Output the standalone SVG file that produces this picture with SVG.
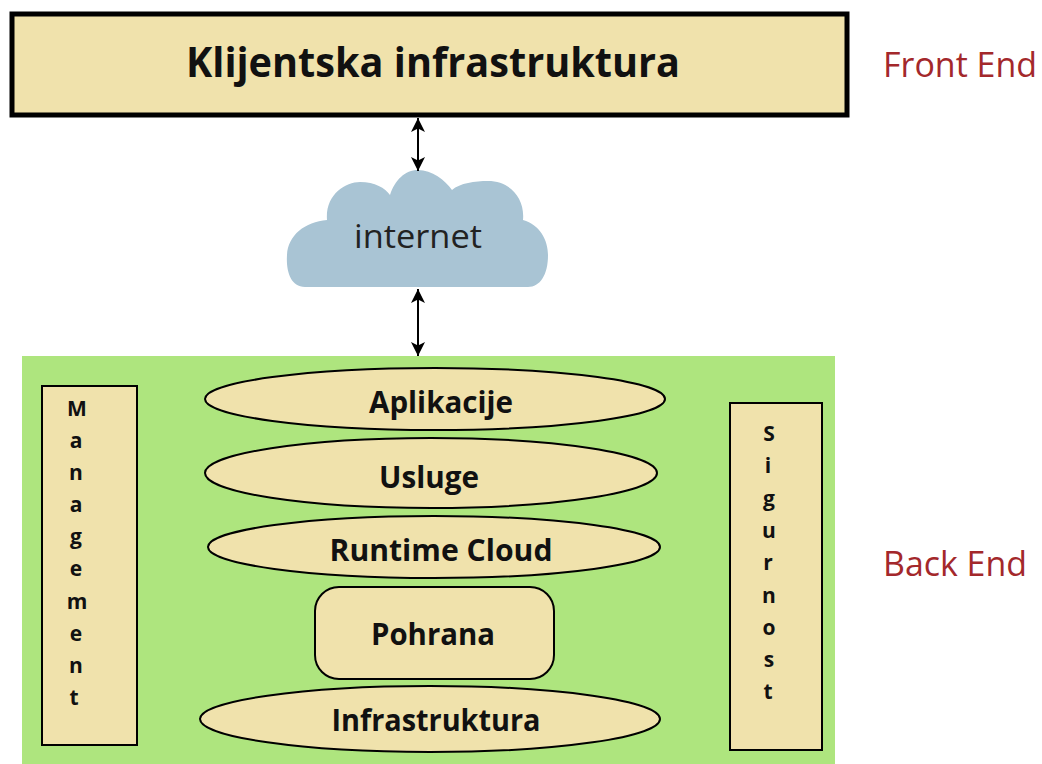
<svg xmlns="http://www.w3.org/2000/svg" width="1042" height="764" viewBox="0 0 1042 764">
<style>
.tan{fill:#F0E2AC;stroke:#000;stroke-width:2}
.lbl{font-family:"Open Sans","Noto Sans","Liberation Sans",sans-serif;font-weight:bold;fill:#111;text-anchor:middle}
.side{font-family:"Open Sans","Noto Sans","Liberation Sans",sans-serif;font-weight:bold;fill:#111;text-anchor:middle;font-size:21px}
.red{font-family:"Open Sans","Noto Sans","Liberation Sans",sans-serif;fill:#A3282B;font-size:35px}
</style>
<defs>
<marker id="ah" viewBox="0 0 10 10" refX="10" refY="5" markerWidth="15" markerHeight="14" orient="auto-start-reverse" markerUnits="userSpaceOnUse">
<path d="M0,0 L10,5 L0,10 L2.5,5 Z" fill="#000"/>
</marker>
</defs>
<rect width="1042" height="764" fill="#fff"/>
<g id="front">
<rect x="12" y="14" width="835" height="101" fill="#F0E2AC" stroke="#000" stroke-width="5"/>
<text class="lbl" x="433" y="77" font-size="41" textLength="494" lengthAdjust="spacingAndGlyphs">Klijentska infrastruktura</text>
</g>
<text class="red" x="883" y="77" textLength="154" lengthAdjust="spacingAndGlyphs">Front End</text>
<text class="red" x="883" y="576" textLength="144" lengthAdjust="spacingAndGlyphs">Back End</text>
<g id="internet">
<path d="M305,287 C290,287 286,270 287,255 C288,235 305,222 327,220 C325,195 345,182 360,182 C375,182 385,188 390,195 C395,180 405,170 418,170 C432,170 445,180 452,190 C460,183 475,181 488,181 C510,181 525,198 523,220 C540,225 548,240 548,255 C548,275 540,287 528,287 Z" fill="#A9C4D4"/>
<text x="418" y="248" font-family="'Open Sans','Noto Sans',sans-serif" font-size="33" fill="#222" text-anchor="middle" textLength="128" lengthAdjust="spacingAndGlyphs">internet</text>
</g>
<g id="backend">
<rect x="22" y="356" width="813" height="408" fill="#AEE57E"/>
</g>
<g id="management">
<rect class="tan" x="42" y="386" width="95" height="359"/>
<text class="side" x="77" y="416">M</text>
<text class="side" x="76" y="448">a</text>
<text class="side" x="76" y="480">n</text>
<text class="side" x="76" y="512">a</text>
<text class="side" x="76" y="544">g</text>
<text class="side" x="76" y="576">e</text>
<text class="side" x="77" y="609">m</text>
<text class="side" x="76" y="641">e</text>
<text class="side" x="76" y="673">n</text>
<text class="side" x="74" y="705">t</text>
</g>
<g id="sigurnost">
<rect class="tan" x="730" y="403" width="92" height="347"/>
<text class="side" x="769" y="441">S</text>
<text class="side" x="768" y="473">i</text>
<text class="side" x="769" y="506">g</text>
<text class="side" x="769" y="538">u</text>
<text class="side" x="768" y="570">r</text>
<text class="side" x="769" y="603">n</text>
<text class="side" x="769" y="635">o</text>
<text class="side" x="769" y="667">s</text>
<text class="side" x="768" y="699">t</text>
</g>
<g id="aplikacije">
<ellipse class="tan" cx="435" cy="399" rx="230" ry="31"/>
<text class="lbl" x="441" y="413" font-size="30" textLength="144" lengthAdjust="spacingAndGlyphs">Aplikacije</text>
</g>
<g id="usluge">
<ellipse class="tan" cx="431" cy="473" rx="226" ry="35"/>
<text class="lbl" x="429" y="488" font-size="30" textLength="100" lengthAdjust="spacingAndGlyphs">Usluge</text>
</g>
<g id="runtime">
<ellipse class="tan" cx="434" cy="547" rx="226" ry="31"/>
<text class="lbl" x="441" y="561" font-size="30" textLength="223" lengthAdjust="spacingAndGlyphs">Runtime Cloud</text>
</g>
<g id="pohrana">
<rect class="tan" x="315" y="587" width="239" height="92" rx="24" ry="24"/>
<text class="lbl" x="433" y="645" font-size="30" textLength="124" lengthAdjust="spacingAndGlyphs">Pohrana</text>
</g>
<g id="infrastruktura">
<ellipse class="tan" cx="430" cy="719" rx="230" ry="33"/>
<text class="lbl" x="436" y="731" font-size="30" textLength="209" lengthAdjust="spacingAndGlyphs">Infrastruktura</text>
</g>
<g id="connectors" stroke="#000" stroke-width="2" fill="none">
<line x1="418" y1="118" x2="418" y2="171" marker-start="url(#ah)" marker-end="url(#ah)"/>
<line x1="418" y1="289" x2="418" y2="356" marker-start="url(#ah)" marker-end="url(#ah)"/>
</g>
</svg>
